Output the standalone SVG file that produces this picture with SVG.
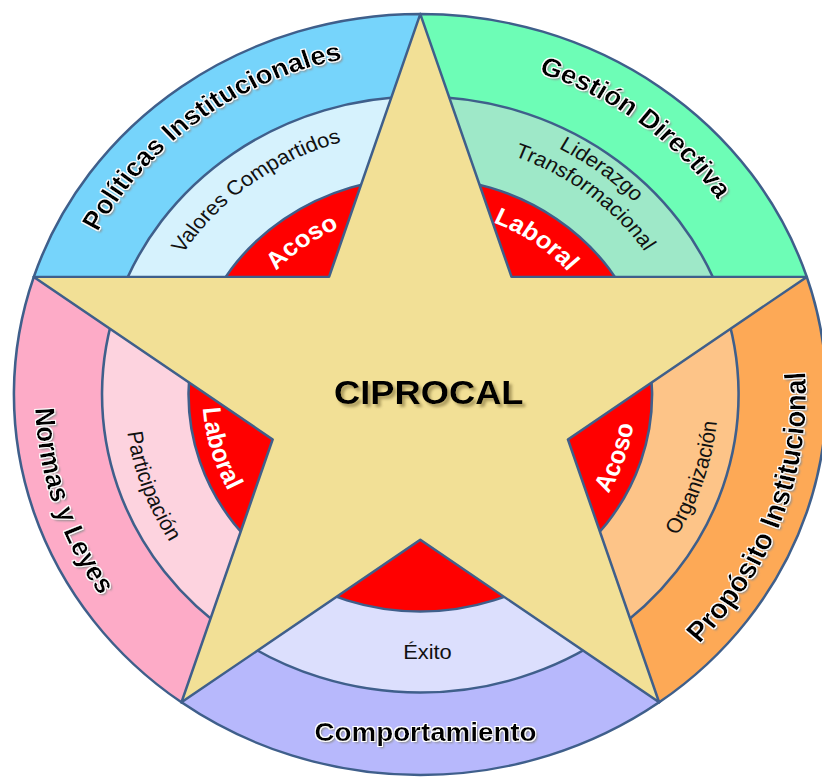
<svg xmlns="http://www.w3.org/2000/svg" width="822" height="777" viewBox="0 0 822 777">
  <defs>
    <style>
      .edge { stroke: #3f5f8b; stroke-width: 2.4; stroke-linejoin: round; }
      .red { fill: #ff0000; }
      .title { font-family: "Liberation Sans", Arial, sans-serif; font-weight: bold; font-size: 26px; fill: #000; filter: url(#lift); }
      .big { font-size: 27.5px; }
      .sub { font-family: "Liberation Sans", Arial, sans-serif; font-size: 20.5px; fill: #111; }
      .hot { font-family: "Liberation Sans", Arial, sans-serif; font-weight: bold; font-size: 24px; fill: #fff; }
      .core { font-family: "Liberation Sans", Arial, sans-serif; font-weight: bold; font-size: 34px; fill: #000; filter: url(#lift2); }
    </style>
    <filter id="lift" x="-10%" y="-30%" width="120%" height="160%">
      <feGaussianBlur in="SourceAlpha" stdDeviation="1"/>
      <feOffset dx="2" dy="2" result="off"/>
      <feFlood flood-color="#8c8c8c"/>
      <feComposite in2="off" operator="in" result="shade"/>
      <feMorphology in="SourceAlpha" operator="dilate" radius="1" result="grow"/>
      <feFlood flood-color="#ffffff"/>
      <feComposite in2="grow" operator="in" result="halo"/>
      <feMerge><feMergeNode in="shade"/><feMergeNode in="halo"/><feMergeNode in="SourceGraphic"/></feMerge>
    </filter>
    <filter id="lift2" x="-10%" y="-30%" width="120%" height="160%">
      <feGaussianBlur in="SourceAlpha" stdDeviation="1.5"/>
      <feOffset dx="2.5" dy="3" result="off"/>
      <feFlood flood-color="#9a8a50" flood-opacity="0.8"/>
      <feComposite in2="off" operator="in" result="shade"/>
      <feMerge><feMergeNode in="shade"/><feMergeNode in="SourceGraphic"/></feMerge>
    </filter>
    <!-- text baselines, centred on each sector -->
    <path id="tp-pol" d="M-342.5,-17.95 A343,343 0 0 1 77.16,-334.21"/>
    <path id="tp-val" d="M-262.64,-13.76 A263,263 0 0 1 59.16,-256.26"/>
    <path id="tp-aco1" d="M-182.55,-12.77 A183,183 0 0 1 44.27,-177.56"/>
    <path id="tp-ges" d="M-76.48,-331.29 A340,340 0 0 1 339.53,-17.8"/>
    <path id="tp-lid" d="M-62.54,-270.87 A278,278 0 0 1 277.62,-14.55"/>
    <path id="tp-tra" d="M-52.81,-248.45 A254,254 0 0 1 253.85,-8.86"/>
    <path id="tp-lab1" d="M-47.88,-178.7 A185,185 0 0 1 184.3,-16.12"/>
    <path id="tp-pro" d="M123.47,339.23 A361,361 0 0 0 312.64,-180.5"/>
    <path id="tp-org" d="M104.52,258.68 A279,279 0 0 0 236.61,-147.85"/>
    <path id="tp-aco2" d="M72.39,188.58 A202,202 0 0 0 173.15,-104.04"/>
    <path id="tp-nor" d="M-306.15,-191.3 A361,361 0 0 0 -135.23,334.71"/>
    <path id="tp-par" d="M-239.89,-138.5 A277,277 0 0 0 -94.74,260.29"/>
    <path id="tp-lab2" d="M-169.12,-114.07 A204,204 0 0 0 -82.97,186.36"/>
  </defs>

  <g transform="translate(420.3,394.5) scale(1.068,1)">
    <!-- five sectors, each with outer, middle and inner (red) bands -->
    <g id="sector-politicas">
      <path class="edge" fill="#76d4fb" d="M0,0 L-361.88,-117.58 A380.5,380.5 0 0 1 0,-380.5 Z"/>
      <path class="edge" fill="#d6f2fd" d="M0,0 L-283.42,-92.09 A298,298 0 0 1 0,-298 Z"/>
      <path class="edge red" d="M0,0 L-206.38,-67.06 A217,217 0 0 1 0,-217 Z"/>
    </g>
    <g id="sector-gestion">
      <path class="edge" fill="#6dfdb6" d="M0,0 L0,-380.5 A380.5,380.5 0 0 1 361.88,-117.58 Z"/>
      <path class="edge" fill="#9ee8c8" d="M0,0 L0,-298 A298,298 0 0 1 283.42,-92.09 Z"/>
      <path class="edge red" d="M0,0 L0,-217 A217,217 0 0 1 206.38,-67.06 Z"/>
    </g>
    <g id="sector-proposito">
      <path class="edge" fill="#fda956" d="M0,0 L361.88,-117.58 A380.5,380.5 0 0 1 223.65,307.83 Z"/>
      <path class="edge" fill="#fdc488" d="M0,0 L283.42,-92.09 A298,298 0 0 1 175.16,241.09 Z"/>
      <path class="edge red" d="M0,0 L206.38,-67.06 A217,217 0 0 1 127.55,175.56 Z"/>
    </g>
    <g id="sector-comportamiento">
      <path class="edge" fill="#b7b8fc" d="M0,0 L223.65,307.83 A380.5,380.5 0 0 1 -223.65,307.83 Z"/>
      <path class="edge" fill="#dcdffd" d="M0,0 L175.16,241.09 A298,298 0 0 1 -175.16,241.09 Z"/>
      <path class="edge red" d="M0,0 L127.55,175.56 A217,217 0 0 1 -127.55,175.56 Z"/>
    </g>
    <g id="sector-normas">
      <path class="edge" fill="#fdabc7" d="M0,0 L-223.65,307.83 A380.5,380.5 0 0 1 -361.88,-117.58 Z"/>
      <path class="edge" fill="#fdd3df" d="M0,0 L-175.16,241.09 A298,298 0 0 1 -283.42,-92.09 Z"/>
      <path class="edge red" d="M0,0 L-127.55,175.56 A217,217 0 0 1 -206.38,-67.06 Z"/>
    </g>

    <!-- central star -->
    <g id="star">
      <polygon class="edge" fill="#f2e096" points="0,-380.5 85.43,-117.58 361.88,-117.58 138.23,44.91 223.65,307.83 0,145.34 -223.65,307.83 -138.23,44.91 -361.88,-117.58 -85.43,-117.58"/>
      <text class="core" x="7.9" y="9.5" text-anchor="middle">CIPROCAL</text>
    </g>

    <!-- sector labels -->
    <g id="labels-politicas">
      <text class="title"><textPath href="#tp-pol" startOffset="50%" text-anchor="middle">Políticas Institucionales</textPath></text>
      <text class="sub"><textPath href="#tp-val" startOffset="50%" text-anchor="middle">Valores Compartidos</textPath></text>
      <text class="hot"><textPath href="#tp-aco1" startOffset="50%" text-anchor="middle">Acoso</textPath></text>
    </g>
    <g id="labels-gestion">
      <text class="title"><textPath href="#tp-ges" startOffset="50%" text-anchor="middle">Gestión Directiva</textPath></text>
      <text class="sub"><textPath href="#tp-lid" startOffset="50%" text-anchor="middle">Liderazgo</textPath></text>
      <text class="sub"><textPath href="#tp-tra" startOffset="50%" text-anchor="middle">Transformacional</textPath></text>
      <text class="hot"><textPath href="#tp-lab1" startOffset="50%" text-anchor="middle">Laboral</textPath></text>
    </g>
    <g id="labels-proposito">
      <text class="title big"><textPath href="#tp-pro" startOffset="50%" text-anchor="middle">Propósito Institucional</textPath></text>
      <text class="sub"><textPath href="#tp-org" startOffset="50%" text-anchor="middle">Organización</textPath></text>
      <text class="hot"><textPath href="#tp-aco2" startOffset="50%" text-anchor="middle">Acoso</textPath></text>
    </g>
    <g id="labels-comportamiento">
      <text class="title" x="4.9" y="347" text-anchor="middle">Comportamiento</text>
      <text class="sub" x="6.7" y="265" text-anchor="middle">Éxito</text>
    </g>
    <g id="labels-normas">
      <text class="title"><textPath href="#tp-nor" startOffset="50%" text-anchor="middle">Normas y Leyes</textPath></text>
      <text class="sub"><textPath href="#tp-par" startOffset="50%" text-anchor="middle">Participación</textPath></text>
      <text class="hot"><textPath href="#tp-lab2" startOffset="50%" text-anchor="middle">Laboral</textPath></text>
    </g>
  </g>
</svg>
